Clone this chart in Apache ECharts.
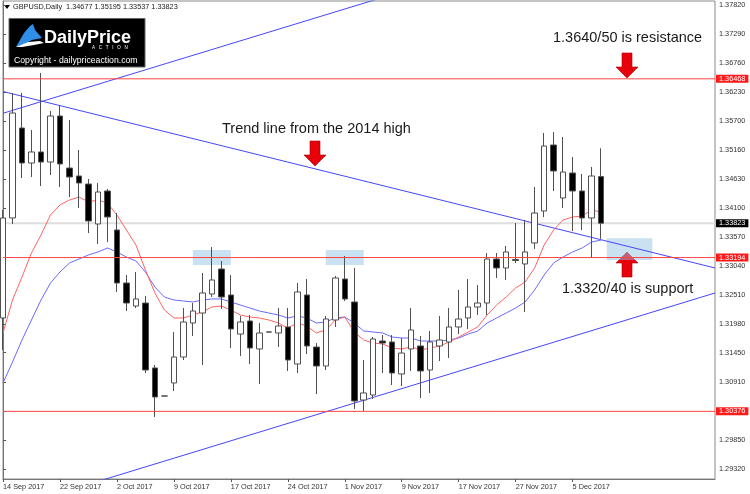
<!DOCTYPE html>
<html><head><meta charset="utf-8">
<script src="https://cdn.jsdelivr.net/npm/echarts@6/dist/echarts.min.js"></script>
<style>html,body{margin:0;padding:0;background:#fff}#c{width:750px;height:494px}</style>
</head><body><div id="c"></div>
<script>
const dates = ['14 Sep 2017','15 Sep 2017','18 Sep 2017','19 Sep 2017','20 Sep 2017','21 Sep 2017','22 Sep 2017','25 Sep 2017','26 Sep 2017','27 Sep 2017','28 Sep 2017','29 Sep 2017','2 Oct 2017','3 Oct 2017','4 Oct 2017','5 Oct 2017','6 Oct 2017','8 Oct 2017','9 Oct 2017','10 Oct 2017','11 Oct 2017','12 Oct 2017','13 Oct 2017','16 Oct 2017','17 Oct 2017','18 Oct 2017','19 Oct 2017','20 Oct 2017','22 Oct 2017','23 Oct 2017','24 Oct 2017','25 Oct 2017','26 Oct 2017','27 Oct 2017','30 Oct 2017','31 Oct 2017','1 Nov 2017','2 Nov 2017','3 Nov 2017','6 Nov 2017','7 Nov 2017','8 Nov 2017','9 Nov 2017','10 Nov 2017','13 Nov 2017','14 Nov 2017','15 Nov 2017','16 Nov 2017','17 Nov 2017','20 Nov 2017','21 Nov 2017','22 Nov 2017','23 Nov 2017','24 Nov 2017','27 Nov 2017','28 Nov 2017','29 Nov 2017','30 Nov 2017','1 Dec 2017','4 Dec 2017','5 Dec 2017','6 Dec 2017','7 Dec 2017','8 Dec 2017'];
const futureDates = ['11 Dec 2017','12 Dec 2017','13 Dec 2017','14 Dec 2017','15 Dec 2017','18 Dec 2017','19 Dec 2017','20 Dec 2017','21 Dec 2017','22 Dec 2017','25 Dec 2017','26 Dec 2017'];
const opens = [1.32087,1.33919,1.35567,1.34926,1.35128,1.34944,1.35787,1.34834,1.34688,1.34541,1.33809,1.34413,1.33699,1.32728,1.32306,1.32361,1.31171,1.30655,1.30896,1.31372,1.31995,1.32178,1.32526,1.32984,1.32508,1.31793,1.32032,1.31519,1.31828,1.31812,1.31922,1.31244,1.32508,1.31555,1.31207,1.32050,1.32801,1.32380,1.30584,1.30676,1.31665,1.31647,1.31061,1.31519,1.31574,1.31134,1.31574,1.31647,1.31922,1.32087,1.32288,1.32361,1.33167,1.33003,1.33158,1.33076,1.33461,1.34047,1.35256,1.34285,1.34743,1.34413,1.33919,1.34677];
const closes = [1.33919,1.35842,1.34926,1.35128,1.34944,1.35787,1.34908,1.34670,1.34560,1.33864,1.34395,1.33937,1.32728,1.32361,1.32435,1.31134,1.30639,1.30660,1.31372,1.32013,1.32215,1.32545,1.32783,1.32471,1.31885,1.32013,1.31537,1.31812,1.31832,1.31940,1.31317,1.32563,1.31574,1.31207,1.32068,1.32819,1.32435,1.30566,1.30713,1.31702,1.31628,1.31079,1.31445,1.31867,1.31116,1.31647,1.31683,1.31922,1.32068,1.32288,1.32361,1.33167,1.33003,1.33296,1.33140,1.33296,1.34010,1.35237,1.34780,1.34761,1.34413,1.33919,1.34688,1.33823];
const lows = [1.31500,1.33809,1.34651,1.34670,1.34505,1.34706,1.34486,1.34303,1.34102,1.33644,1.33442,1.33479,1.32563,1.32215,1.32270,1.31079,1.30273,1.30650,1.30749,1.31317,1.31757,1.31226,1.32471,1.32251,1.31537,1.31390,1.31244,1.30878,1.31825,1.31555,1.31116,1.31079,1.31427,1.30694,1.31134,1.31922,1.32398,1.30420,1.30383,1.30603,1.31079,1.30859,1.30841,1.31116,1.30621,1.30713,1.31299,1.31354,1.31793,1.31885,1.32142,1.32142,1.32819,1.32783,1.33094,1.32196,1.33351,1.33937,1.34413,1.34102,1.33680,1.33699,1.33186,1.33537];
const highs = [1.34065,1.36208,1.36208,1.35531,1.36575,1.35879,1.35989,1.35714,1.35164,1.34633,1.34560,1.34450,1.34010,1.32874,1.32929,1.32490,1.31226,1.30665,1.31830,1.32270,1.32361,1.32911,1.33387,1.33131,1.32874,1.32123,1.32142,1.31995,1.31835,1.32270,1.32270,1.32728,1.32801,1.31628,1.32123,1.32856,1.33222,1.33003,1.31317,1.31738,1.31775,1.31775,1.31720,1.32270,1.31757,1.31848,1.32123,1.32270,1.32600,1.32801,1.32691,1.33277,1.33277,1.33406,1.33827,1.33882,1.34486,1.35476,1.35494,1.35402,1.35036,1.34725,1.34853,1.35195];
const maFast = [1.31812,1.32416,1.32838,1.33277,1.33607,1.33973,1.34157,1.34248,1.34303,1.34212,1.34248,1.34193,1.33973,1.33699,1.33424,1.32966,1.32545,1.32233,1.32087,1.32087,1.32142,1.32196,1.32288,1.32306,1.32233,1.32142,1.32105,1.32087,1.32050,1.31995,1.31903,1.31995,1.31940,1.31812,1.31867,1.32050,1.32105,1.31830,1.31683,1.31628,1.31610,1.31537,1.31519,1.31555,1.31500,1.31537,1.31574,1.31647,1.31738,1.31830,1.31922,1.32142,1.32325,1.32471,1.32636,1.32746,1.33003,1.33424,1.33699,1.33882,1.33937,1.33955,1.34065,1.34028];
const maSlow = [1.30896,1.31280,1.31683,1.32050,1.32416,1.32728,1.32929,1.33094,1.33167,1.33241,1.33296,1.33369,1.33296,1.33204,1.33131,1.32929,1.32654,1.32471,1.32416,1.32398,1.32380,1.32416,1.32435,1.32435,1.32380,1.32325,1.32270,1.32215,1.32178,1.32142,1.32087,1.32123,1.32087,1.31995,1.32013,1.32087,1.32105,1.31995,1.31848,1.31830,1.31812,1.31738,1.31720,1.31720,1.31665,1.31665,1.31665,1.31683,1.31720,1.31793,1.31848,1.31995,1.32087,1.32178,1.32270,1.32380,1.32600,1.32874,1.33094,1.33204,1.33296,1.33369,1.33479,1.33515];
const priceTicks = [1.29320,1.29850,1.30910,1.31450,1.31980,1.32510,1.33040,1.33570,1.34100,1.34630,1.35160,1.35700,1.36230,1.36760,1.37290,1.37820];
const tickMarks = [1.29320,1.29850,1.30380,1.30910,1.31450,1.31980,1.32510,1.33040,1.33570,1.34100,1.34630,1.35160,1.35700,1.36230,1.36760,1.37290,1.37820];
const levels = [1.36468,1.33194,1.30376];
const lastPrice = 1.33823;
const header = {symbol:'GBPUSD', period:'Daily', o:1.34677, h:1.35195, l:1.33537, c:1.33823};
// trend lines: [barIndex, price] endpoints
const trend2014 = [[0,1.36236],[75,1.33003]];
const channelUpper = [[0,1.35837],[45,1.38225]];
const channelLower = [[10,1.29093],[75,1.32545]];
// highlight zones: [[barIndexFrom, priceTop],[barIndexTo, priceBottom]]
const zones = [[[20,1.33332],[24,1.33058]],[[34,1.33332],[38,1.33058]],[[63.6,1.33546],[68.4,1.33149]]];
const labelEvery = 6;

const FONT = "'Liberation Sans', Arial, sans-serif";
const cats = dates.concat(futureDates);
const lastIdx = cats.length - 1;
const candles = dates.map((d,i)=>[opens[i],closes[i],lows[i],highs[i]]);
const showTick = (i)=> i % labelEvery === 0 && i < dates.length - 2;

function downArrow(cx,y0,y1){return [[cx-5,y0],[cx+5,y0],[cx+5,y1-11],[cx+11,y1-11],[cx,y1],[cx-11,y1-11],[cx-5,y1-11]];}
function upArrow(cx,y0,y1){return [[cx-5,y0],[cx+5,y0],[cx+5,y1+11],[cx+11,y1+11],[cx,y1],[cx-11,y1+11],[cx-5,y1+11]];}

const chart = echarts.init(document.getElementById('c'));
const hLine = (v,color,width,bg,z)=>({type:'line',xAxisIndex:1,data:[[0,v],[lastIdx,v]],symbol:'none',silent:true,z:z,
  lineStyle:{color:color,width:width},
  endLabel:{show:true,distance:1,formatter:()=>v.toFixed(5),backgroundColor:bg,color:'#fff',fontSize:7.3,fontFamily:FONT,padding:[1,3,0,3]}});
chart.setOption({
  animation:false,
  backgroundColor:'#fff',
  grid:{left:2.2,right:35,top:1,bottom:15,show:true,borderColor:'#8a8a8a',borderWidth:1,containLabel:false},
  xAxis:[{type:'category',data:cats,boundaryGap:false,
    axisLine:{lineStyle:{color:'#777'}},
    axisTick:{show:true,interval:showTick,length:3,lineStyle:{color:'#555'}},
    axisLabel:{interval:showTick,align:'left',fontSize:7.3,fontFamily:FONT,color:'#333',margin:4},
    splitLine:{show:false}},
   {type:'value',min:0,max:lastIdx,show:false}],
  yAxis:{type:'value',position:'right',min:1.29137,max:1.37894,
    axisLine:{show:true,lineStyle:{color:'#777'}},
    axisTick:{show:true,length:3,customValues:tickMarks,lineStyle:{color:'#555'}},
    axisLabel:{customValues:priceTicks,formatter:(v)=>v.toFixed(5),fontSize:7.3,fontFamily:FONT,color:'#333',margin:4},
    splitLine:{show:false}},
  series:[
    hLine(lastPrice,'#dedede',2,'#000',1),
    {type:'line',xAxisIndex:1,data:trend2014,symbol:'none',lineStyle:{color:'#4646ff',width:1},z:2,
      markArea:{silent:true,itemStyle:{color:'rgba(150,195,230,0.5)'},data:zones.map(z=>[{coord:z[0]},{coord:z[1]}])}},
    {type:'line',xAxisIndex:1,data:channelUpper,symbol:'none',lineStyle:{color:'#4646ff',width:1},z:2},
    {type:'line',xAxisIndex:1,data:channelLower,symbol:'none',lineStyle:{color:'#4646ff',width:1},z:2},
    {type:'line',data:maSlow,symbol:'none',lineStyle:{color:'#6a6aff',width:1},z:3},
    {type:'line',data:maFast,symbol:'none',lineStyle:{color:'#ff6464',width:1},z:3},
    {type:'candlestick',data:candles,barWidth:6,z:4,
      itemStyle:{color:'#fff',color0:'#000',borderColor:'#505050',borderColor0:'#505050',borderWidth:1}}
  ].concat(levels.map(v=>hLine(v,'#ff4444',1,'#ff1a1a',5))),
  graphic:[
    {type:'polygon',shape:{points:[[4,5],[10,5],[7,9]]},style:{fill:'#000'}},
    {type:'text',x:13,y:7,style:{text:header.symbol+','+header.period+'  '+[header.o,header.h,header.l,header.c].map(v=>v.toFixed(5)).join(' '),font:'7.3px '+FONT,fill:'#222',verticalAlign:'middle'}},
    {type:'rect',shape:{x:9,y:18.5,width:136,height:48.5},style:{fill:'#000',stroke:'#666',lineWidth:1}},
    {type:'polygon',shape:{points:[[16,47],[24,33],[30,26],[33,24],[35,30],[42,38],[32,40],[24,44]]},style:{fill:'#2f8fe8'}},
    {type:'polygon',shape:{points:[[16,47],[28,42],[40,41],[44,43],[34,45],[22,47]]},style:{fill:'#fff'}},
    {type:'text',x:44,y:38.5,style:{text:'DailyPrice',font:'bold 18px '+FONT,fill:'#fff',verticalAlign:'middle'}},
    {type:'text',x:92,y:48,style:{text:'A   C   T   I   O   N',font:'4.5px '+FONT,fill:'#fff',verticalAlign:'middle'}},
    {type:'text',x:14,y:61,style:{text:'Copyright - dailypriceaction.com',font:'8.7px '+FONT,fill:'#fff',verticalAlign:'middle'}},
    {type:'text',x:553,y:38,style:{text:'1.3640/50 is resistance',font:'14.5px '+FONT,fill:'#1a1a1a',verticalAlign:'middle'}},
    {type:'text',x:222,y:129,style:{text:'Trend line from the 2014 high',font:'14.5px '+FONT,fill:'#1a1a1a',verticalAlign:'middle'}},
    {type:'text',x:562,y:289,style:{text:'1.3320/40 is support',font:'14.5px '+FONT,fill:'#1a1a1a',verticalAlign:'middle'}},
    {type:'polygon',shape:{points:downArrow(627,53,78)},style:{fill:'#e8000b',stroke:'#a00',lineWidth:0.6}},
    {type:'polygon',shape:{points:downArrow(315,141,166)},style:{fill:'#e8000b',stroke:'#a00',lineWidth:0.6}},
    {type:'polygon',shape:{points:upArrow(627,277,252)},style:{fill:'#e8000b',stroke:'#a00',lineWidth:0.6}}
  ]
});
</script></body></html>
